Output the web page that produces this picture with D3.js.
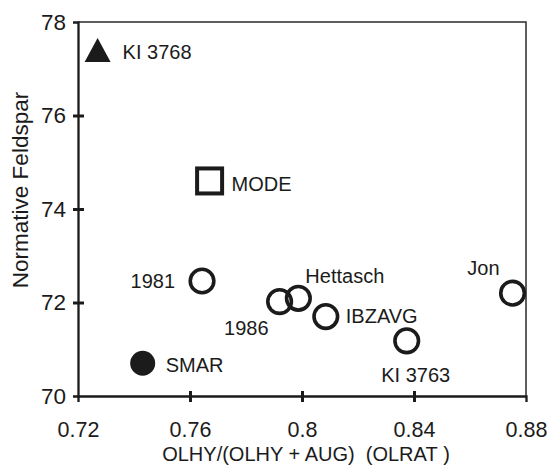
<!DOCTYPE html>
<html>
<head>
<meta charset="utf-8">
<script src="https://cdn.jsdelivr.net/npm/d3@7"></script>
<style>
  html, body { margin: 0; padding: 0; background: #fff; }
  svg { display: block; font-family: "Liberation Sans", Arial, Helvetica, sans-serif; }
</style>
</head>
<body>
<svg id="chart" width="551" height="469"></svg>
<script>
// Sample names, OLRAT values and normative feldspar values
const samples   = ["KI 3768", "MODE", "1981", "1986", "Hettasch", "IBZAVG", "KI 3763", "Jon", "SMAR"];
const olrat     = [0.727, 0.7670, 0.7643, 0.7920, 0.7987, 0.8085, 0.8374, 0.8752, 0.7431];
const feldspar  = [77.40, 74.60, 72.46, 72.02, 72.09, 71.70, 71.18, 72.20, 70.70];
const markers   = ["triangle", "square", "open", "open", "open", "open", "open", "open", "filled"];

const xTicks = [0.72, 0.76, 0.80, 0.84, 0.88];
const xTickLabels = ["0.72", "0.76", "0.8", "0.84", "0.88"];
const yTicks = [70, 72, 74, 76, 78];

const xTitle = "OLHY/(OLHY + AUG)\u00a0\u00a0(OLRAT\u00a0)";
const yTitle = "Normative Feldspar";

// Label placement around each marker: [dx, dy, anchor]
const labelPlacement = {
  "KI 3768":  [25, 9, "start"],
  "MODE":     [22, 10, "start"],
  "1981":     [-27, 7, "end"],
  "1986":     [-11, 33, "end"],
  "Hettasch": [7, -15, "start"],
  "IBZAVG":   [20, 6, "start"],
  "KI 3763":  [9, 41, "middle"],
  "Jon":      [-13, -18, "end"],
  "SMAR":     [23, 9, "start"]
};

const ink = "#1b1b1b";
const margin = { left: 78, right: 25, top: 22, bottom: 73 };
const W = 551, H = 469;
const svg = d3.select("#chart");

const x = d3.scaleLinear().domain([0.72, 0.88]).range([margin.left, W - margin.right]);
const y = d3.scaleLinear().domain([70, 78]).range([H - margin.bottom, margin.top]);

// Frame: thin top and right edges
svg.append("path")
  .attr("d", `M${x(0.72)},${y(78)} H${x(0.88)} V${y(70)}`)
  .attr("fill", "none").attr("stroke", "#2a2a2a").attr("stroke-width", 1.5);

// Left axis
const yAxis = svg.append("g")
  .attr("transform", `translate(${x(0.72)},0)`)
  .call(d3.axisLeft(y).tickValues(yTicks).tickFormat(d3.format("d")).tickSize(5).tickPadding(7));
yAxis.select(".domain").attr("stroke", ink).attr("stroke-width", 2.3);
yAxis.selectAll(".tick line")
  .attr("x1", 6).attr("x2", -5)
  .attr("stroke", ink).attr("stroke-width", 3)
  .attr("display", d => (d === 70 || d === 78) ? "none" : null);
yAxis.selectAll(".tick text")
  .attr("font-size", 22.5).attr("fill", ink).attr("font-family", null);

// Bottom axis
const xAxis = svg.append("g")
  .attr("transform", `translate(0,${y(70)})`)
  .call(d3.axisBottom(x).tickValues(xTicks).tickFormat((d, i) => xTickLabels[i]).tickSize(6).tickPadding(20));
xAxis.select(".domain").attr("stroke", ink).attr("stroke-width", 2.3);
xAxis.selectAll(".tick line")
  .attr("y1", -5).attr("y2", 6)
  .attr("stroke", ink).attr("stroke-width", 3)
  .attr("display", d => (d === 0.72 || d === 0.88) ? "none" : null);
xAxis.selectAll(".tick text")
  .attr("font-size", 21.5).attr("fill", ink).attr("font-family", null);

// Axis titles
svg.append("text")
  .attr("x", (x(0.72) + x(0.88)) / 2 + 4).attr("y", 461)
  .attr("text-anchor", "middle").attr("font-size", 20).attr("fill", ink)
  .text(xTitle);

svg.append("text")
  .attr("transform", `translate(28,${190}) rotate(-90)`)
  .attr("text-anchor", "middle").attr("font-size", 22.5).attr("fill", ink)
  .text(yTitle);

// Markers
const pts = samples.map((s, i) => ({ name: s, x: olrat[i], y: feldspar[i], m: markers[i] }));
const g = svg.append("g");

pts.forEach(p => {
  const cx = x(p.x), cy = y(p.y);
  if (p.m === "open") {
    g.append("circle").attr("cx", cx).attr("cy", cy).attr("r", 11.8)
      .attr("fill", "none").attr("stroke", ink).attr("stroke-width", 3.6);
  } else if (p.m === "filled") {
    g.append("circle").attr("cx", cx).attr("cy", cy).attr("r", 12.5).attr("fill", ink);
  } else if (p.m === "square") {
    g.append("rect").attr("x", cx - 12.5).attr("y", cy - 12.5).attr("width", 25).attr("height", 25)
      .attr("fill", "none").attr("stroke", ink).attr("stroke-width", 4);
  } else if (p.m === "triangle") {
    g.append("path")
      .attr("d", `M${cx},${cy - 12} L${cx + 13},${cy + 12} L${cx - 13},${cy + 12} Z`)
      .attr("fill", ink);
  }
  const [dx, dy, anchor] = labelPlacement[p.name];
  g.append("text")
    .attr("x", cx + dx).attr("y", cy + dy)
    .attr("text-anchor", anchor).attr("font-size", 20).attr("fill", ink)
    .text(p.name);
});
</script>
</body>
</html>
